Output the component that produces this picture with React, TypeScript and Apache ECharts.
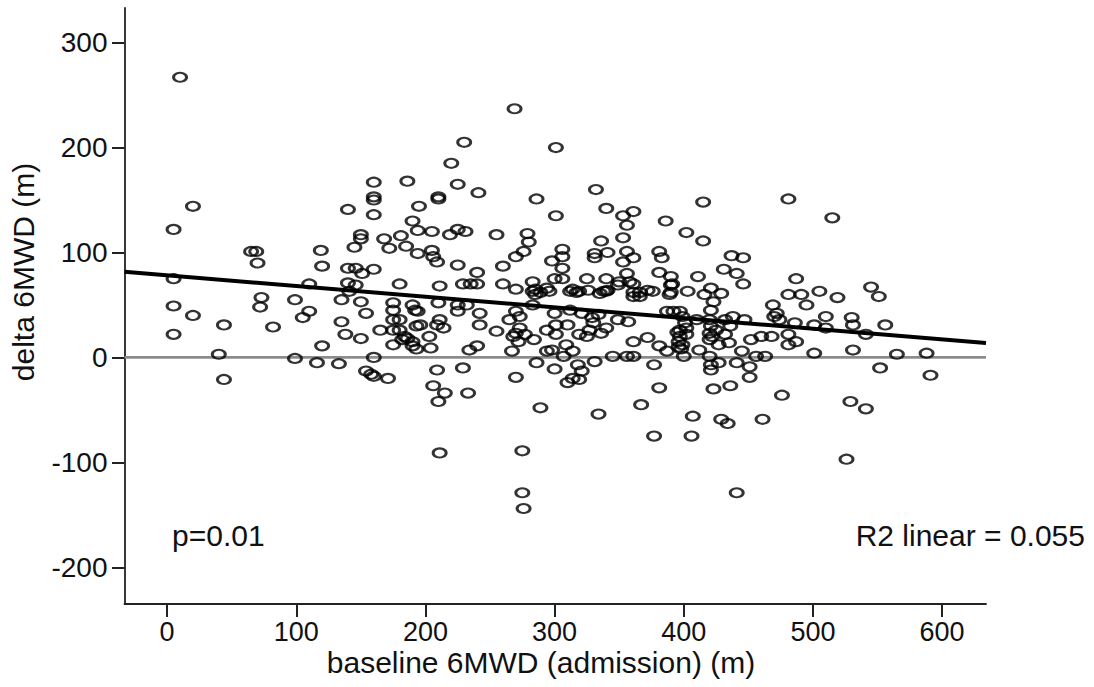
import React, { useEffect, useRef } from "react";
import * as echarts from "echarts";

// [baseline 6MWD (m), delta 6MWD (m)] per patient
const patients: [number, number][] = [
  [10, 267], [160, 167], [186, 168], [160, 153], [160, 150], [20, 144], [140, 141], [160, 136], [195, 144], [190, 130],
  [194, 121], [5, 122], [150, 117], [150, 113], [168, 113], [181, 116],
  [65, 101], [69, 101], [70, 90], [119, 102], [120, 87], [145, 105], [172, 104], [185, 106], [194, 99], [140, 85],
  [146, 85], [151, 80], [160, 84], [5, 75], [110, 70], [140, 71], [146, 69], [180, 70], [141, 63], [5, 49],
  [20, 40], [73, 57], [72, 48], [99, 55], [110, 44], [105, 38], [135, 55], [150, 53], [154, 42], [135, 34],
  [138, 22], [150, 18], [165, 26], [175, 52], [175, 45], [175, 36], [180, 36], [175, 26], [180, 26], [190, 50],
  [192, 45], [193, 30], [184, 20], [186, 18], [182, 17], [175, 12], [190, 11], [5, 22], [44, 31], [82, 29],
  [120, 11], [40, 3], [44, -21], [99, -1], [116, -5], [133, -6], [160, 0], [154, -13], [160, -18], [158, -16],
  [171, -20],
  [269, 237], [230, 205], [301, 200], [220, 185], [225, 165], [241, 157], [210, 153], [210, 151], [332, 160], [286, 151],
  [340, 142], [301, 135], [353, 135], [361, 139], [356, 126], [386, 130], [415, 148], [205, 120], [219, 117], [225, 122],
  [231, 120], [255, 117], [279, 118], [280, 110], [353, 114], [402, 119], [415, 111], [205, 102], [206, 96], [209, 91],
  [225, 88], [240, 81], [229, 70], [235, 70], [240, 70], [211, 68], [260, 87], [270, 96], [276, 101], [260, 70],
  [270, 65], [283, 72], [285, 65], [294, 66], [298, 92], [306, 103], [306, 96], [306, 85], [300, 75], [306, 75],
  [325, 75], [331, 99], [331, 95], [336, 111], [341, 100], [353, 91], [356, 101], [361, 95], [356, 80], [340, 75],
  [350, 72], [358, 72], [361, 70], [381, 101], [383, 95], [381, 81], [390, 77], [391, 70], [403, 63], [411, 77],
  [283, 63], [289, 62], [296, 63], [312, 63], [317, 62], [326, 64], [338, 63], [341, 64], [349, 69], [361, 62],
  [366, 62], [372, 64], [376, 63], [390, 62],
  [314, 65], [319, 63], [335, 61], [340, 63], [361, 58], [366, 58], [390, 69], [389, 60], [194, 44], [190, 15],
  [193, 8], [196, 31], [203, 20], [204, 9], [210, 52], [211, 36], [214, 28], [209, 31], [225, 50], [225, 44],
  [232, 50], [242, 42], [242, 31], [234, 7], [240, 11], [255, 25], [265, 36], [270, 44], [273, 39], [273, 28],
  [270, 23], [272, 15], [277, 22], [268, 20], [267, 6], [283, 50], [285, 60], [284, 17], [294, 26], [301, 31],
  [301, 22], [310, 31], [294, 6], [298, 7], [300, 42], [309, 12], [314, 6], [307, 1], [312, 45], [321, 42],
  [319, 22], [325, 20], [327, 26], [330, 33], [329, 38], [334, 41], [336, 23], [340, 28], [300, -11], [318, -7],
  [321, -13], [314, -20], [319, -21], [310, -24], [331, -4], [286, -5], [270, -19], [209, -12], [206, -27], [215, -34],
  [210, -42], [229, -10], [233, -34], [211, -91], [275, -89], [275, -129], [276, -144], [289, -48], [334, -54], [367, -45],
  [381, -29], [377, -75], [407, -56], [406, -75], [377, -7], [345, 1], [356, 1], [361, 1], [361, 15], [372, 19],
  [381, 11], [387, 6], [349, 36], [357, 34], [387, 44], [392, 44], [397, 44], [399, 39], [401, 33], [397, 26],
  [397, 20], [396, 15], [402, 28], [400, 1], [410, 36], [412, 7], [399, 12], [398, 8], [402, 22], [395, 24],
  [396, 10],
  [481, 151], [515, 133], [437, 97], [446, 95], [431, 84], [441, 80], [446, 70], [416, 60], [421, 66], [423, 53],
  [429, 61], [421, 45], [420, 36], [421, 30], [420, 23], [422, 20], [425, 26], [420, 17], [432, 36], [438, 39],
  [447, 36], [436, 30], [432, 22], [435, 14], [427, 12], [445, 6], [452, 17], [460, 20], [468, 20], [456, 1],
  [463, 1], [441, -5], [420, 1], [421, -7], [421, -12], [427, -5], [451, -9], [451, -19], [423, -30], [436, -27],
  [429, -59], [434, -63], [461, -59], [476, -36], [441, -129], [469, 50], [472, 42], [470, 39], [474, 36], [481, 60],
  [487, 75], [491, 60], [495, 50], [505, 63], [519, 57], [481, 22], [486, 33], [487, 15], [481, 12], [501, 31],
  [510, 39], [510, 28], [530, 38], [531, 31], [501, 4], [531, 7], [545, 67], [551, 58], [541, 22], [556, 31],
  [565, 3], [588, 4], [552, -10], [591, -17], [529, -42], [541, -49], [526, -97],
];

// Linear fit line (end points at the axis limits)
const fitX = [-33, 634];
const fitY = [81.6, 13.7];

// Reference (zero change) line
const zeroX = [-33, 634];
const zeroY = [0, 0];

const xRange = [-33, 634];
const yRange = [-235, 333];
const xTickValues = [0, 100, 200, 300, 400, 500, 600];
const yTickValues = [-200, -100, 0, 100, 200, 300];

const xTitle = "baseline 6MWD (admission) (m)";
const yTitle = "delta 6MWD (m)";
const pLabel = "p=0.01";
const r2Label = "R2 linear = 0.055";

export default function App() {
  const ref = useRef<HTMLDivElement>(null);

  useEffect(() => {
    if (!ref.current) return;
    const chart = echarts.init(ref.current, null, { renderer: "svg" });
    const font = '"Liberation Sans", Arial, Helvetica, sans-serif';
    const axisColor = "#222";

    chart.setOption({
      animation: false,
      backgroundColor: "#ffffff",
      grid: { left: 124.5, right: 108, top: 8, bottom: 83, containLabel: false },
      xAxis: {
        type: "value",
        min: xRange[0],
        max: xRange[1],
        splitLine: { show: false },
        axisLine: { show: true, onZero: false, lineStyle: { color: axisColor, width: 1.8 } },
        axisTick: {
          show: true,
          inside: false,
          length: 13,
          customValues: xTickValues,
          lineStyle: { color: axisColor, width: 2 },
        },
        axisLabel: {
          customValues: xTickValues,
          margin: 14,
          fontSize: 27,
          color: "#111",
          fontFamily: font,
        },
      },
      yAxis: {
        type: "value",
        min: yRange[0],
        max: yRange[1],
        splitLine: { show: false },
        axisLine: { show: true, onZero: false, lineStyle: { color: axisColor, width: 1.8 } },
        axisTick: {
          show: true,
          inside: false,
          length: 12.5,
          customValues: yTickValues,
          lineStyle: { color: axisColor, width: 2 },
        },
        axisLabel: {
          customValues: yTickValues,
          margin: 17,
          fontSize: 28,
          color: "#111",
          fontFamily: font,
        },
      },
      series: [
        {
          type: "line",
          data: zeroX.map((x, i) => [x, zeroY[i]]),
          symbol: "none",
          silent: true,
          z: 1,
          lineStyle: { color: "#8c8c8c", width: 2.7 },
        },
        {
          type: "scatter",
          data: patients,
          symbol: "circle",
          symbolSize: [13, 9],
          silent: true,
          z: 2,
          itemStyle: { color: "rgba(0,0,0,0)", borderColor: "#000", borderWidth: 2.5 },
        },
        {
          type: "line",
          data: fitX.map((x, i) => [x, fitY[i]]),
          symbol: "none",
          silent: true,
          z: 3,
          lineStyle: { color: "#000", width: 4 },
        },
      ],
      graphic: [
        {
          type: "text",
          x: 23.5,
          y: 272,
          rotation: Math.PI / 2,
          style: {
            text: yTitle,
            font: `30px ${font}`,
            fill: "#111",
            textAlign: "center",
            textVerticalAlign: "middle",
          },
        },
        {
          type: "text",
          x: 541,
          y: 662,
          style: {
            text: xTitle,
            font: `30px ${font}`,
            fill: "#111",
            textAlign: "center",
            textVerticalAlign: "middle",
          },
        },
        {
          type: "text",
          x: 172,
          y: 535,
          style: {
            text: pLabel,
            font: `30px ${font}`,
            fill: "#111",
            textAlign: "left",
            textVerticalAlign: "middle",
          },
        },
        {
          type: "text",
          x: 1085,
          y: 535,
          style: {
            text: r2Label,
            font: `30px ${font}`,
            fill: "#111",
            textAlign: "right",
            textVerticalAlign: "middle",
          },
        },
      ],
    });

    return () => chart.dispose();
  }, []);

  return (
    <div
      ref={ref}
      style={{ position: "absolute", left: 0, top: 0, width: 1094, height: 687 }}
    />
  );
}
